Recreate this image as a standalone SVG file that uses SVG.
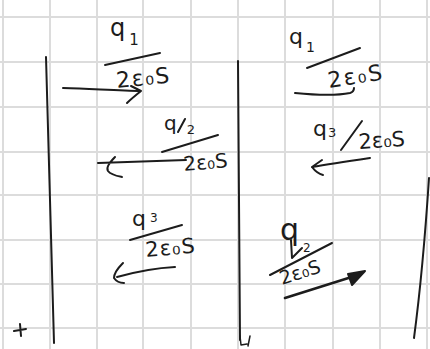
<svg xmlns="http://www.w3.org/2000/svg" width="430" height="349" viewBox="0 0 430 349">
<style>
.grid{stroke:#dcdcdc;stroke-width:2;fill:none}
.ink{stroke:#1c1c1c;stroke-width:2;fill:none;stroke-linecap:round;stroke-linejoin:round}
.t{font-family:"DejaVu Sans","Liberation Sans",sans-serif;fill:#1c1c1c}
</style>
<rect width="430" height="349" fill="#ffffff"/>
<g id="grid" class="grid">
<path d="M3,0V349M50,0V349M97,0V349M143,0V349M191,0V349M238,0V349M285,0V349M333,0V349M380,0V349M427,0V349"/>
<path d="M0,17H430M0,62H430M0,107H430M0,152H430M0,195H430M0,240H430M0,284H430M0,328H430"/>
</g>
<g id="plates" class="ink">
<path d="M46,57 L54,343"/>
<path d="M238,61 Q239,200 240,340"/>
<path d="M429,178 Q423,270 414,338"/>
<path d="M14,331 L26,329 M20,324 L21,336"/>
<path d="M240,336 L241,345 L247,344 M250,336 L248,346" stroke-width="1.5"/>
</g>
<g id="label-q1-left">
<text class="t" x="110" y="36" font-size="24">q<tspan font-size="15" dx="4" dy="9">1</tspan></text>
<path class="ink" d="M105,65 L160,53"/>
<text class="t" x="117" y="88" font-size="22" letter-spacing="1.5" transform="rotate(-6 117 88)">2ε₀S</text>
</g>
<g id="label-q1-right">
<text class="t" x="289" y="44" font-size="22">q<tspan font-size="14" dx="3" dy="8">1</tspan></text>
<path class="ink" d="M307,68 L360,48"/>
<text class="t" x="329" y="88" font-size="22" letter-spacing="2" transform="rotate(-9 329 88)">2ε₀S</text>
</g>
<g id="label-q2-left">
<text class="t" x="164" y="130" font-size="20">q<tspan font-size="13" dx="10" dy="4">2</tspan></text>
<path class="ink" d="M178,132 L185,119"/>
<path class="ink" d="M162,152 L218,135"/>
<text class="t" x="184" y="171" font-size="20" transform="rotate(-5 184 171)">2ε₀S</text>
</g>
<g id="label-q3-right">
<text class="t" x="313" y="136" font-size="22">q<tspan x="328" font-size="13" dy="1">3</tspan></text>
<path class="ink" d="M341,150 L362,121"/>
<text class="t" x="359" y="149" font-size="21" transform="rotate(-4 359 149)">2ε₀S</text>
</g>
<g id="label-q3-left">
<text class="t" x="132" y="226" font-size="22">q<tspan font-size="12" dx="4" dy="-4">3</tspan></text>
<path class="ink" d="M130,240 L182,225"/>
<text class="t" x="146" y="257" font-size="21" letter-spacing="1" transform="rotate(-5 146 257)">2ε₀S</text>
</g>
<g id="label-q2-right">
<text class="t" x="280" y="240" font-size="30">q</text>
<path class="ink" d="M291,240 L292,258 L302,248"/>
<text class="t" x="303" y="252" font-size="12">2</text>
<path class="ink" d="M270,275 L332,243"/>
<text class="t" x="282" y="285" font-size="19" transform="rotate(-18 282 285)">2ε₀S</text>
</g>
<g id="arrows" class="ink">
<path d="M63,88 C95,89 120,91 141,91 M131,86 L141,91 C136,95 131,99 127,103"/>
<path d="M295,93 C315,95 335,96 350,93 C353,92 354,90 354,88"/>
<path d="M186,160 L98,163 M115,157 C110,162 106,168 108,171 C111,175 117,176 122,177"/>
<path d="M370,158 C350,161 330,164 312,167 M322,160 L312,167 C315,171 319,174 323,175"/>
<path d="M175,267 C155,268 135,272 117,277 M123,263 C118,268 114,273 114,278 C116,281 120,283 124,283"/>
<path d="M285,298 L358,275" stroke-width="2.6"/>
<path d="M348,274 L365,271 L352,285 Z" fill="#1c1c1c"/>
</g>
</svg>
